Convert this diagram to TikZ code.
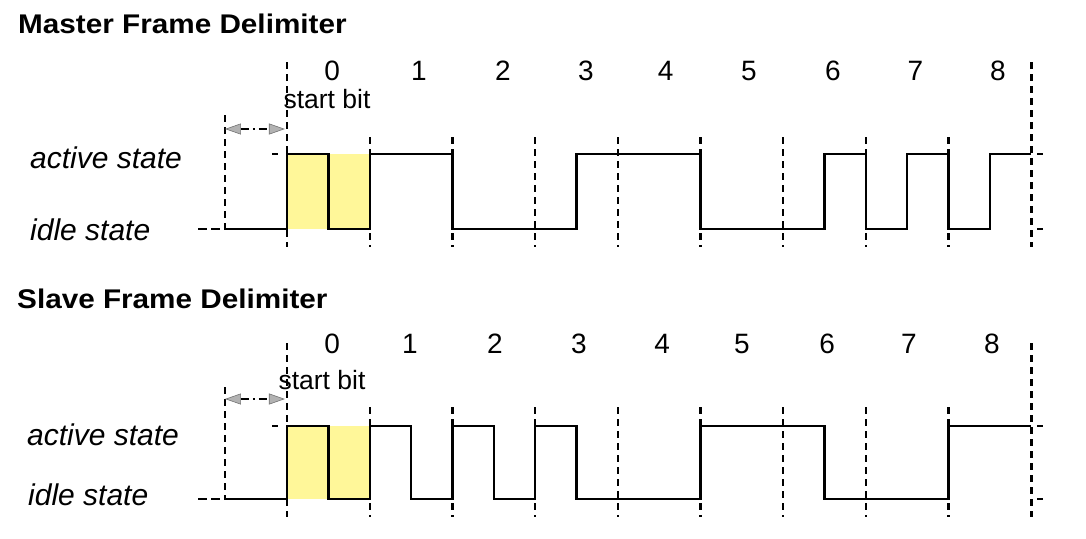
\documentclass[tikz,border=0pt]{standalone}
\usepackage{fontspec}
\setmainfont{Liberation Sans}
\newfontfamily\headfont{Liberation Sans}[FakeStretch=1.1]
\usetikzlibrary{arrows.meta}
\definecolor{startfill}{HTML}{FFF799}
\tikzset{
  framehead/.style={anchor=base west, inner sep=0pt, font=\headfont\fontsize{27}{32}\selectfont\bfseries},
  statelabel/.style={anchor=base west, inner sep=0pt, font=\fontsize{30}{36}\selectfont\itshape},
  bitnum/.style={anchor=base, inner sep=0pt, font=\fontsize{28}{34}\selectfont},
  startlabel/.style={anchor=base, inner sep=0pt, font=\fontsize{26.5}{32}\selectfont},
  wave/.style={line width=2.4pt, line join=miter},
  bitline/.style={line width=2.4pt, dash pattern=on 7pt off 5pt},
  leveltick/.style={line width=2.2pt},
  gap/.style={line width=2pt, dash pattern=on 8pt off 4pt on 2pt off 4pt,
    {Triangle[length=16pt, width=11pt, fill=gray!60, color=gray!90!black, line width=0.6pt, sep=0pt]}-{Triangle[length=16pt, width=11pt, fill=gray!60, color=gray!90!black, line width=0.6pt]}},
}

\begin{document}
\begin{tikzpicture}[x=1pt, y=-1pt]
  \useasboundingbox (0,0) rectangle (1086,538);

  % master frame
  \node[framehead] (mhead) at (18,33) {Master Frame Delimiter};
  \node[statelabel] (mactive) at (30,168) {active state};
  \node[statelabel] (midle) at (30,240) {idle state};
  \node[startlabel] (mstart) at (327,108) {start bit};
  \begin{scope}[shift={(287,0)}, x=41.35pt]
    \fill[startfill] (0,154) rectangle (2,229);
    \foreach \h in {2,4,...,16}
      \draw[bitline] (\h,137) -- (\h,247);
    \draw[bitline] (0,62) -- (0,247);
    \draw[bitline] (18,62) -- (18,247);
    \draw[bitline] (-1.5,115) -- (-1.5,229);
    \foreach \k/\h in {0/1.09, 1/3.19, 2/5.22, 3/7.23, 4/9.16, 5/11.17, 6/13.2, 7/15.2, 8/17.19}
      \node[bitnum] (mbit\k) at (\h,80) {\k};
    % levels
    \draw[leveltick, dash pattern=on 9pt off 4pt] (-2.15,229) -- (-1.5,229);
    \draw[leveltick] (-0.36,154) -- (-0.22,154);
    \draw[leveltick] (18.14,154) -- (18.28,154);
    \draw[leveltick] (18.14,229) -- (18.28,229);
    \coordinate (mgapl) at (-1.5,129);
    \coordinate (mgapr) at (-0.05,129);
    \draw[gap] (mgapl) -- (mgapr);
    \draw[wave] (-1.5,229) -- (0,229) -- (0,154) -- (1,154) -- (1,229) -- (2,229) -- (2,154)
      -- (4,154) -- (4,229) -- (7,229) -- (7,154) -- (10,154) -- (10,229) -- (13,229)
      -- (13,154) -- (14,154) -- (14,229) -- (15,229) -- (15,154) -- (16,154) -- (16,229)
      -- (17,229) -- (17,154) -- (18,154);
  \end{scope}

  % slave frame
  \node[framehead] (shead) at (17,308) {Slave Frame Delimiter};
  \node[statelabel] (sactive) at (27,445) {active state};
  \node[statelabel] (sidle) at (28,505) {idle state};
  \node[startlabel] (sstart) at (322,389) {start bit};
  \begin{scope}[shift={(287,0)}, x=41.35pt]
    \fill[startfill] (0,426) rectangle (2,499);
    \foreach \h in {2,4,...,16}
      \draw[bitline] (\h,407) -- (\h,517);
    \draw[bitline] (0,343) -- (0,517);
    \draw[bitline] (18,343) -- (18,517);
    \draw[bitline] (-1.5,387) -- (-1.5,499);
    \foreach \k/\h in {0/1.09, 1/2.97, 2/5.03, 3/7.06, 4/9.07, 5/11.0, 6/13.06, 7/15.04, 8/17.05}
      \node[bitnum] (sbit\k) at (\h,353) {\k};
    % levels
    \draw[leveltick, dash pattern=on 9pt off 4pt] (-2.15,499) -- (-1.5,499);
    \draw[leveltick] (-0.36,426) -- (-0.22,426);
    \draw[leveltick] (18.14,426) -- (18.28,426);
    \draw[leveltick] (18.14,499) -- (18.28,499);
    \coordinate (sgapl) at (-1.5,399);
    \coordinate (sgapr) at (-0.05,399);
    \draw[gap] (sgapl) -- (sgapr);
    \draw[wave] (-1.5,499) -- (0,499) -- (0,426) -- (1,426) -- (1,499) -- (2,499) -- (2,426)
      -- (3,426) -- (3,499) -- (4,499) -- (4,426) -- (5,426) -- (5,499) -- (6,499)
      -- (6,426) -- (7,426) -- (7,499) -- (10,499) -- (10,426) -- (13,426) -- (13,499)
      -- (16,499) -- (16,426) -- (18,426);
  \end{scope}
\end{tikzpicture}
\end{document}
